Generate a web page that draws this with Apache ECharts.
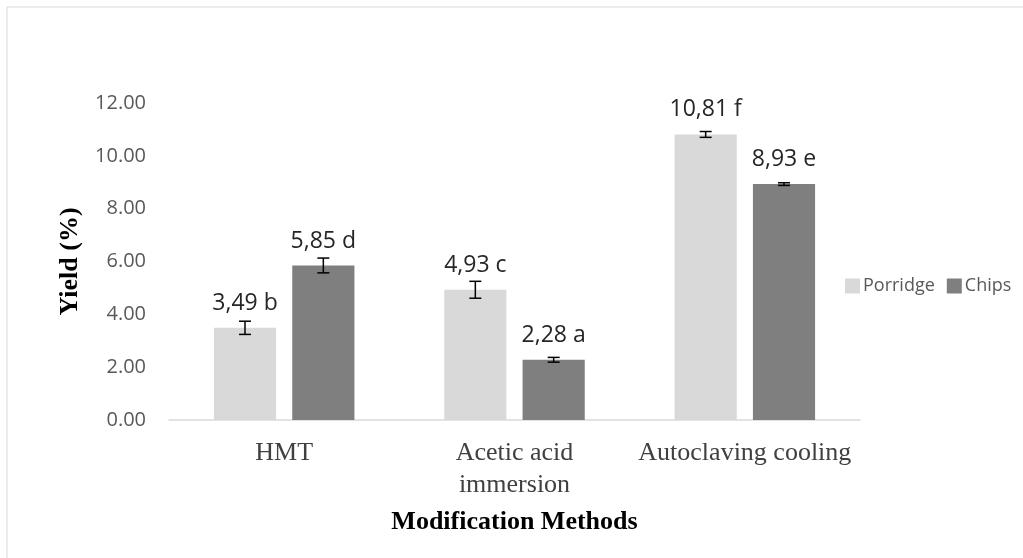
<!DOCTYPE html>
<html>
<head>
<meta charset="utf-8">
<script src="https://cdn.jsdelivr.net/npm/echarts@6/dist/echarts.min.js"></script>
<style>
  html, body { margin: 0; padding: 0; background: #fff; }
  #chart { width: 1023px; height: 558px; }
</style>
</head>
<body>
<div id="chart"></div>
<script>
// data
const methods = ['HMT', 'Acetic acid\nimmersion', 'Autoclaving cooling'];
const porridge = [3.49, 4.93, 10.81];
const chips = [5.85, 2.28, 8.93];
const porridgeErr = [0.25, 0.32, 0.11];
const chipsErr = [0.28, 0.09, 0.05];
const porridgeLetters = ['b', 'c', 'f'];
const chipsLetters = ['d', 'a', 'e'];
const yTicks = [0, 2, 4, 6, 8, 10, 12];

const CAT_GAP = 0.39;   // barCategoryGap
const BAR_GAP = 0.26;   // barGap

const chart = echarts.init(document.getElementById('chart'));

function labelFmt(letters) {
  return p => p.value.toFixed(2).replace('.', ',') + ' ' + letters[p.dataIndex];
}

// error bar drawn next to its bar, side = -1 first bar, +1 second
function errorSeries(vals, errs, side) {
  return {
    type: 'custom',
    z: 5,
    silent: true,
    encode: { x: 0, y: 1 },
    data: vals.map((v, i) => [i, v, errs[i]]),
    renderItem(params, api) {
      const cw = api.size([1, 0])[0];
      const bw = cw * (1 - CAT_GAP) / (2 + BAR_GAP);
      const total = bw * (2 + BAR_GAP);
      const off = side < 0 ? -total / 2 + bw / 2 : total / 2 - bw / 2;
      const v = api.value(1), e = api.value(2);
      const hi = api.coord([api.value(0), v + e]);
      const lo = api.coord([api.value(0), v - e]);
      const x = hi[0] + off;
      const cap = 6;
      const st = { stroke: '#000', lineWidth: 1.5 };
      return {
        type: 'group',
        children: [
          { type: 'line', shape: { x1: x, y1: hi[1], x2: x, y2: lo[1] }, style: st },
          { type: 'line', shape: { x1: x - cap, y1: hi[1], x2: x + cap, y2: hi[1] }, style: st },
          { type: 'line', shape: { x1: x - cap, y1: lo[1], x2: x + cap, y2: lo[1] }, style: st }
        ]
      };
    }
  };
}

const option = {
  animation: false,
  graphic: [{
    type: 'rect',
    shape: { x: 7, y: 7, width: 1200, height: 800 },
    style: { fill: 'none', stroke: '#d9d9d9', lineWidth: 1 },
    silent: true
  }],
  grid: { left: 169, right: 163, top: 103, bottom: 138 },
  legend: {
    left: 840,
    top: 272,
    itemWidth: 15,
    itemHeight: 15,
    itemGap: 12,
    icon: 'rect',
    data: ['Porridge', 'Chips'],
    textStyle: { fontFamily: 'Open Sans', fontSize: 18, color: '#595959', padding: [0, 0, 0, -2] }
  },
  xAxis: {
    type: 'category',
    data: methods,
    name: 'Modification Methods',
    nameLocation: 'middle',
    nameGap: 89,
    nameTextStyle: { fontFamily: 'Liberation Serif', fontWeight: 'bold', fontSize: 26, color: '#000' },
    axisLine: { lineStyle: { color: '#d9d9d9', width: 1.5 } },
    axisTick: { show: false },
    axisLabel: {
      interval: 0,
      margin: 17,
      fontFamily: 'Liberation Serif',
      fontSize: 26,
      lineHeight: 32,
      color: '#404040'
    }
  },
  yAxis: {
    type: 'value',
    min: yTicks[0],
    max: yTicks[yTicks.length - 1],
    interval: 2,
    name: 'Yield (%)',
    nameLocation: 'middle',
    nameGap: 86,
    nameTextStyle: { fontFamily: 'Liberation Serif', fontWeight: 'bold', fontSize: 26, color: '#000' },
    axisLine: { show: false },
    axisTick: { show: false },
    splitLine: { show: false },
    axisLabel: {
      margin: 23,
      fontFamily: 'Open Sans',
      fontSize: 20,
      color: '#595959',
      formatter: v => v.toFixed(2)
    }
  },
  series: [
    {
      name: 'Porridge',
      type: 'bar',
      data: porridge,
      itemStyle: { color: '#d9d9d9' },
      barGap: (BAR_GAP * 100) + '%',
      barCategoryGap: (CAT_GAP * 100) + '%',
      label: {
        show: true,
        position: 'top',
        distance: 13,
        fontFamily: 'Open Sans',
        fontSize: 23,
        color: '#262626',
        formatter: labelFmt(porridgeLetters)
      }
    },
    {
      name: 'Chips',
      type: 'bar',
      data: chips,
      itemStyle: { color: '#7f7f7f' },
      barGap: (BAR_GAP * 100) + '%',
      barCategoryGap: (CAT_GAP * 100) + '%',
      label: {
        show: true,
        position: 'top',
        distance: 13,
        fontFamily: 'Open Sans',
        fontSize: 23,
        color: '#262626',
        formatter: labelFmt(chipsLetters)
      }
    },
    errorSeries(porridge, porridgeErr, -1),
    errorSeries(chips, chipsErr, 1)
  ]
};

chart.setOption(option);
</script>
</body>
</html>
